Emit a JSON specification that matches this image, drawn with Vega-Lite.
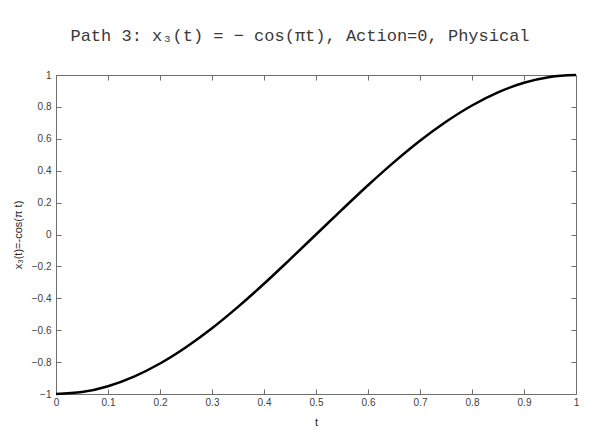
{
  "$schema": "https://vega.github.io/schema/vega-lite/v6.json",
  "autosize": "none",
  "padding": {"left": 56, "top": 75, "right": 21, "bottom": 36},
  "width": 520,
  "height": 319,
  "background": "white",
  "title": {
    "text": "Path 3: x₃(t) = − cos(πt), Action=0, Physical",
    "font": "Liberation Mono",
    "fontSize": 17,
    "fontWeight": "normal",
    "color": "#3a3a3a",
    "anchor": "middle",
    "frame": "group",
    "baseline": "alphabetic",
    "offset": 12,
    "dx": -16
  },
  "config": {
    "view": {"stroke": "#6e6e6e", "strokeWidth": 1},
    "axis": {
      "grid": false,
      "domain": false,
      "tickColor": "#6e6e6e",
      "tickSize": -5,
      "labelFont": "Liberation Sans",
      "labelFontSize": 10,
      "labelColor": "#404040",
      "titleFont": "Liberation Sans",
      "titleFontSize": 11,
      "titleFontWeight": "normal",
      "titleColor": "#262626"
    }
  },
  "data": {
    "values": [
      {"t": 0, "x": -1},
      {"t": 0.05, "x": -0.988},
      {"t": 0.1, "x": -0.951},
      {"t": 0.15, "x": -0.891},
      {"t": 0.2, "x": -0.809},
      {"t": 0.25, "x": -0.707},
      {"t": 0.3, "x": -0.588},
      {"t": 0.35, "x": -0.454},
      {"t": 0.4, "x": -0.309},
      {"t": 0.45, "x": -0.156},
      {"t": 0.5, "x": 0},
      {"t": 0.55, "x": 0.156},
      {"t": 0.6, "x": 0.309},
      {"t": 0.65, "x": 0.454},
      {"t": 0.7, "x": 0.588},
      {"t": 0.75, "x": 0.707},
      {"t": 0.8, "x": 0.809},
      {"t": 0.85, "x": 0.891},
      {"t": 0.9, "x": 0.951},
      {"t": 0.95, "x": 0.988},
      {"t": 1, "x": 1}
    ]
  },
  "resolve": {"axis": {"x": "independent", "y": "independent"}},
  "layer": [
    {
      "mark": {"type": "line", "color": "black", "strokeWidth": 2.5, "interpolate": "monotone", "clip": false},
      "encoding": {
        "x": {
          "field": "t", "type": "quantitative",
          "scale": {"domain": [0, 1], "nice": false, "zero": false},
          "axis": {"values": [0,0.1,0.2,0.3,0.4,0.5,0.6,0.7,0.8,0.9,1], "format": "~g", "title": "t", "labelPadding": 8, "titlePadding": 9, "labelFlush": false}
        },
        "y": {
          "field": "x", "type": "quantitative",
          "scale": {"domain": [-1, 1], "nice": false, "zero": false},
          "axis": {"values": [-1,-0.8,-0.6,-0.4,-0.2,0,0.2,0.4,0.6,0.8,1], "format": "~g", "title": "x₃(t)=-cos(π t)", "labelPadding": 10, "titlePadding": 8, "labelFlush": false}
        }
      }
    },
    {
      "mark": {"type": "line", "opacity": 0},
      "encoding": {
        "x": {
          "field": "t", "type": "quantitative",
          "axis": {"orient": "top", "values": [0,0.1,0.2,0.3,0.4,0.5,0.6,0.7,0.8,0.9,1], "labels": false, "title": null}
        },
        "y": {
          "field": "x", "type": "quantitative",
          "axis": {"orient": "right", "values": [-1,-0.8,-0.6,-0.4,-0.2,0,0.2,0.4,0.6,0.8,1], "labels": false, "title": null}
        }
      }
    }
  ]
}
